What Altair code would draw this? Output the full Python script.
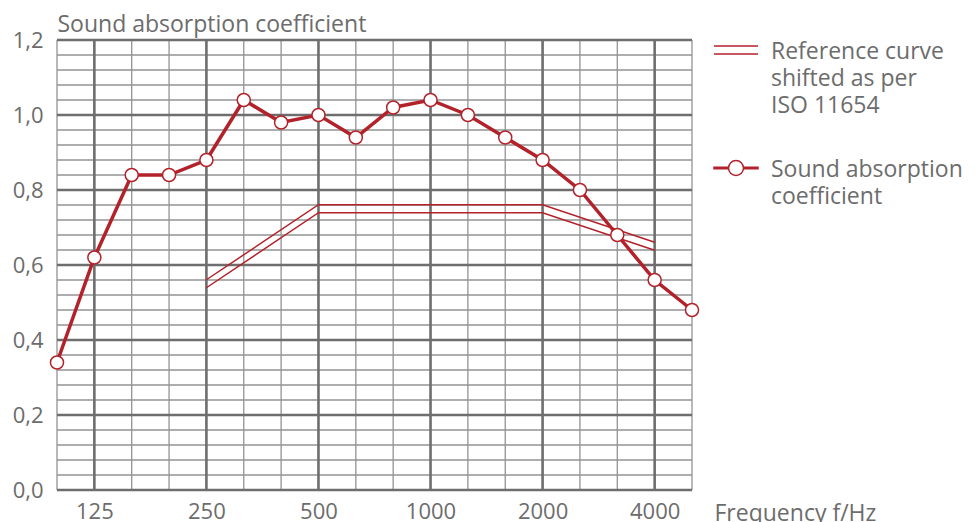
import altair as alt
import pandas as pd

# ---- data ----
bands = ["100", "125", "160", "200", "250", "315", "400", "500", "630", "800",
         "1000", "1250", "1600", "2000", "2500", "3150", "4000", "5000"]
major_bands = ["125", "250", "500", "1000", "2000", "4000"]
absorption = [0.34, 0.62, 0.84, 0.84, 0.88, 1.04, 0.98, 1.00, 0.94, 1.02,
              1.04, 1.00, 0.94, 0.88, 0.80, 0.68, 0.56, 0.48]
ref_bands = ["250", "500", "1000", "2000", "4000"]
ref_values = [0.55, 0.75, 0.75, 0.75, 0.65]
y_ticks = [0.0, 0.2, 0.4, 0.6, 0.8, 1.0, 1.2]
y_grid = [round(i * 0.04, 2) for i in range(31)]
series_names = ["Reference curve|shifted as per|ISO 11654", "Sound absorption|coefficient"]

RED = "#b3222a"
TEXT = "#6c6c6c"
GRID_MAJOR = "#6e6e6e"
GRID_MINOR = "#939393"
FONT = "Open Sans"

# legend symbol paths (unit square, scaled by symbol size); drawn slightly low
# so that the symbol lines up with the first line of its label
PATH_DOUBLE = "M-1,0.23H1M-1,0.59H1"
PATH_CIRCLE = ("M-1,0.378H-0.34V0.442H-1Z M0.34,0.378H1V0.442H0.34Z "
               "M0.34,0.41A0.34,0.34,0,1,1,-0.34,0.41A0.34,0.34,0,1,1,0.34,0.41Z")

vminor = pd.DataFrame({"band": [b for b in bands if b not in major_bands]})
vmajor = pd.DataFrame({"band": major_bands})
hminor = pd.DataFrame({"alpha": [v for v in y_grid if v not in y_ticks]})
hmajor = pd.DataFrame({"alpha": y_ticks})
meas_df = pd.DataFrame({"band": bands, "alpha": absorption})
ref_df = pd.DataFrame({"band": ref_bands, "alpha": ref_values})
legend_df = pd.DataFrame({"series": series_names})

major_list = "[" + ",".join("'%s'" % b for b in major_bands) + "]"

xaxis = alt.Axis(
    title="Frequency f/Hz", titleX=657, titleY=12, titleAlign="left", titleAnchor="start",
    titleBaseline="top", titleFont=FONT, titleFontSize=23, titleFontWeight="normal",
    titleColor=TEXT, labelExpr="indexof(%s, datum.value) >= 0 ? datum.value : ''" % major_list,
    labelFont=FONT, labelFontSize=22, labelColor=TEXT, labelAngle=0, labelBaseline="top",
    labelPadding=11, ticks=False, domain=False, grid=False, labelOverlap=False,
)
yaxis = alt.Axis(
    title="Sound absorption coefficient", titleAngle=0, titleX=0, titleY=-9,
    titleAlign="left", titleAnchor="start", titleBaseline="alphabetic", titleFont=FONT,
    titleFontSize=23, titleFontWeight="normal", titleColor=TEXT,
    values=y_ticks, labelExpr="replace(format(datum.value, '.1f'), '.', ',')",
    labelFont=FONT, labelFontSize=22, labelColor=TEXT, labelPadding=14,
    ticks=False, domain=False, grid=False,
)
xscale = alt.Scale(type="point", domain=bands, padding=0)
yscale = alt.Scale(domain=[0, 1.2], nice=False, zero=True)
X = alt.X("band:O", scale=xscale, axis=xaxis, sort=bands)
Y = alt.Y("alpha:Q", scale=yscale, axis=yaxis)

g_vminor = alt.Chart(vminor).mark_rule(color=GRID_MINOR, strokeWidth=1.3).encode(x=X)
g_hminor = alt.Chart(hminor).mark_rule(color=GRID_MINOR, strokeWidth=1.3).encode(y=Y)
g_vmajor = alt.Chart(vmajor).mark_rule(color=GRID_MAJOR, strokeWidth=2.6).encode(x=X)
g_hmajor = alt.Chart(hmajor).mark_rule(color=GRID_MAJOR, strokeWidth=2.6).encode(y=Y)

ref_hi = alt.Chart(ref_df).mark_line(color=RED, strokeWidth=1.5, yOffset=-4).encode(x=X, y=Y)
ref_lo = alt.Chart(ref_df).mark_line(color=RED, strokeWidth=1.5, yOffset=4).encode(x=X, y=Y)
meas_line = alt.Chart(meas_df).mark_line(color=RED, strokeWidth=3.5).encode(x=X, y=Y)
meas_pts = alt.Chart(meas_df).mark_point(
    shape="circle", filled=True, fill="white", stroke=RED, strokeWidth=1.5, size=170, opacity=1
).encode(x=X, y=Y)

legend = alt.Legend(
    title=None, orient="none", legendX=656, legendY=-22, padding=0,
    symbolSize=1936, symbolStrokeWidth=1.5, symbolFillColor="white", symbolOpacity=1,
    labelExpr="split(datum.label, '|')", labelFont=FONT, labelFontSize=23,
    labelColor=TEXT, labelBaseline="top", labelOffset=12, labelLimit=400, rowPadding=18,
)
legend_layer = alt.Chart(legend_df).mark_point(
    filled=True, fill="white", strokeWidth=1.5
).encode(
    stroke=alt.Stroke("series:N", scale=alt.Scale(domain=series_names, range=[RED, RED]), legend=legend),
    shape=alt.Shape("series:N", scale=alt.Scale(domain=series_names, range=[PATH_DOUBLE, PATH_CIRCLE]), legend=legend),
).transform_filter("false")

chart = alt.layer(
    g_vminor, g_hminor, g_vmajor, g_hmajor, ref_hi, ref_lo, meas_line, meas_pts, legend_layer
).properties(
    width=635, height=450,
    autosize=alt.AutoSizeParams(type="none"),
    padding={"left": 49, "top": 32, "right": 276, "bottom": 32},
).configure(
    view=alt.ViewConfig(stroke=None),
    style={"guide-label": {"lineHeight": 27}},
)

chart.save("out.html", embed_options={"renderer": "svg", "actions": False})
